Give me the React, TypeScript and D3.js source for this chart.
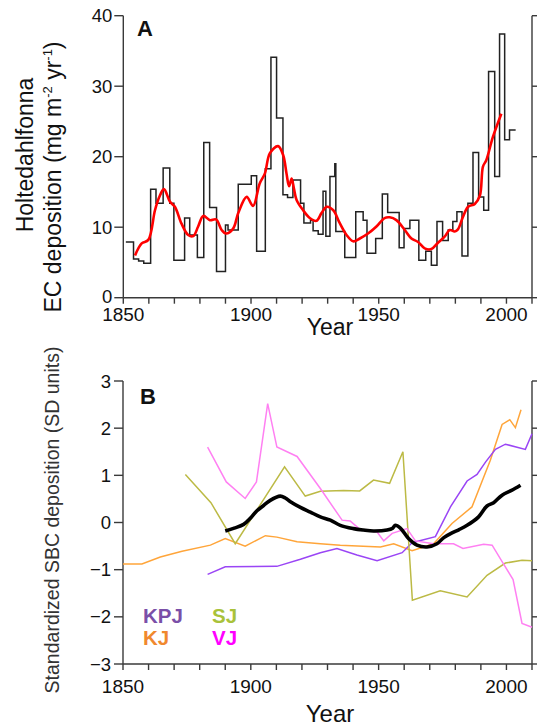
import React from "react";
import * as d3 from "d3";

// ---------- Panel A data ----------
const stepStarts = [1851, 1854, 1856, 1858, 1860.7, 1862.8, 1865.6, 1868.2, 1869.8, 1874, 1876, 1879, 1881.5, 1883.8, 1886.5, 1890, 1891, 1895, 1900.1, 1902.2, 1905.6, 1907.8, 1910, 1912.5, 1914.3, 1916.4, 1919.4, 1920.7, 1923.3, 1924.3, 1926.3, 1928.2, 1929.3, 1930.9, 1932.8, 1933.2, 1936.7, 1941, 1943.9, 1945.4, 1948.8, 1951.4, 1953.5, 1958, 1959.9, 1962.2, 1965.7, 1968.4, 1970.6, 1972.8, 1975, 1977.2, 1979, 1980.6, 1982.6, 1984.9, 1986.9, 1989.1, 1991.1, 1993, 1995.4, 1997.3, 1999.3, 2001.2];
const stepValues = [7.9, 5.5, 5.2, 4.9, 15.4, 13.4, 18.4, 13.4, 5.3, 11.3, 8.9, 5.7, 22.0, 12.8, 3.7, 10.3, 9.6, 16.1, 17.3, 6.6, 18.3, 34.1, 25.5, 14.6, 14.2, 16.7, 13.4, 10.6, 11.0, 9.5, 9.0, 15.1, 8.7, 17.2, 19.0, 9.4, 5.7, 12.2, 11.0, 6.3, 8.4, 14.7, 12.1, 7.1, 9.8, 11.0, 5.3, 6.6, 4.6, 10.8, 8.1, 9.6, 10.8, 12.2, 5.9, 13.4, 20.6, 14.3, 12.4, 32.1, 17.2, 37.4, 22.4, 23.8];
const stepEnd = 2003.6;

const smoothYears = [1854.6, 1857.2, 1859.8, 1862.4, 1864, 1865.9, 1868.3, 1870.2, 1872.8, 1875.4, 1877.4, 1879.3, 1881.3, 1883.9, 1886.3, 1888.5, 1890.2, 1893, 1895, 1898.3, 1900.8, 1903.4, 1905.4, 1907.4, 1910.6, 1912.6, 1913.9, 1914.9, 1915.9, 1916.8, 1917.8, 1920.4, 1923, 1925.6, 1927.6, 1929.6, 1932.2, 1934.7, 1937.4, 1940, 1942.6, 1945.8, 1949.1, 1952.3, 1954.3, 1956.9, 1960.2, 1962.8, 1965.4, 1968, 1970.6, 1973.2, 1975.8, 1977.8, 1979.7, 1981, 1983, 1985, 1987.6, 1989.6, 1990.8, 1992.1, 1994.7, 1998];
const smoothValues = [6.0, 7.7, 8.2, 12.4, 14.2, 15.4, 13.6, 12.9, 10.5, 8.9, 8.75, 10.1, 11.6, 11.0, 11.1, 9.6, 9.1, 9.8, 12.0, 14.3, 13.0, 16.2, 17.6, 20.5, 21.5, 20.2, 17.6, 15.8, 16.9, 15.5, 13.9, 12.4, 11.3, 10.9, 12.0, 12.9, 12.4, 10.6, 8.9, 8.0, 8.4, 9.1, 10.1, 11.3, 11.4, 11.0, 9.6, 8.4, 7.9, 7.0, 6.9, 7.8, 8.65, 9.6, 9.4, 9.7, 11.5, 12.9, 13.3, 14.5, 18.6, 19.5, 22.8, 26.1];

const aYTicks = [0, 10, 20, 30, 40];
const xTickLabels = [1850, 1900, 1950, 2000];

// ---------- Panel B data ----------
const kjYears = [1850, 1857.4, 1864.6, 1873.1, 1884.2, 1890, 1897.8, 1905.7, 1910.2, 1918.1, 1927.2, 1935, 1950.7, 1955.9, 1963.1, 1971.5, 1978.7, 1986.5, 1993.7, 1998.3, 2001.3, 2003.5, 2005.7];
const kjValues = [-0.88, -0.88, -0.73, -0.61, -0.48, -0.34, -0.5, -0.28, -0.31, -0.41, -0.45, -0.48, -0.52, -0.45, -0.6, -0.45, -0.02, 0.33, 1.32, 2.08, 2.18, 2.01, 2.39];

const kpjYears = [1883.1, 1890, 1910.2, 1919.4, 1927.2, 1933.7, 1941.5, 1949.4, 1959.2, 1963.1, 1972.2, 1978.1, 1984.6, 1988.5, 1991.8, 1995.7, 1999.6, 2007.4, 2010];
const kpjValues = [-1.1, -0.94, -0.93, -0.78, -0.64, -0.55, -0.69, -0.81, -0.64, -0.43, -0.3, 0.33, 0.88, 1.02, 1.28, 1.55, 1.66, 1.55, 1.88];

const sjYears = [1874.4, 1884.4, 1893.9, 1913.2, 1921.3, 1927.2, 1936.3, 1942.6, 1948, 1954.3, 1959.5, 1963.2, 1974.1, 1984.6, 1992.4, 1999.6, 2006.1, 2010];
const sjValues = [1.02, 0.42, -0.45, 1.18, 0.56, 0.66, 0.68, 0.67, 0.9, 0.83, 1.5, -1.65, -1.45, -1.58, -1.12, -0.86, -0.8, -0.81];

const vjYears = [1883.1, 1890.4, 1897.8, 1902.2, 1906.6, 1910.2, 1918.1, 1927.2, 1935.7, 1938.9, 1942.8, 1949.4, 1952, 1955.3, 1961.1, 1964.4, 1971.5, 1979.3, 1983, 1991.1, 1994.4, 1998.3, 2002.6, 2006.1, 2010];
const vjValues = [1.6, 0.86, 0.51, 0.86, 2.52, 1.6, 1.4, 0.72, 0.05, 0.03, -0.15, -0.2, -0.39, -0.23, -0.13, -0.39, -0.45, -0.45, -0.55, -0.46, -0.48, -0.83, -1.21, -2.14, -2.22];

const compYears = [1890, 1893.5, 1897.2, 1900, 1902.4, 1905, 1907.6, 1911.5, 1913.5, 1915.5, 1919.4, 1923.3, 1927.2, 1931.1, 1935, 1940.2, 1944, 1948, 1953.3, 1955.5, 1956.5, 1958.5, 1961.7, 1965, 1968.9, 1972.8, 1975.5, 1978.7, 1981.5, 1984.6, 1989.1, 1992.4, 1995, 1998.3, 2002, 2005.5];
const compValues = [-0.18, -0.12, -0.04, 0.1, 0.25, 0.36, 0.47, 0.56, 0.52, 0.44, 0.32, 0.22, 0.12, 0.05, -0.06, -0.13, -0.16, -0.18, -0.16, -0.12, -0.06, -0.12, -0.34, -0.48, -0.52, -0.45, -0.32, -0.22, -0.15, -0.06, 0.12, 0.35, 0.42, 0.58, 0.68, 0.79];

const bYTicks = [-3, -2, -1, 0, 1, 2, 3];

const legendItems = [
  { label: "KPJ", color: "#7a4fa8", col: 0, row: 0 },
  { label: "SJ", color: "#a9c23a", col: 1, row: 0 },
  { label: "KJ", color: "#f0882e", col: 0, row: 1 },
  { label: "VJ", color: "#ff00ff", col: 1, row: 1 },
];

const FONT = "'Liberation Sans', Arial, Helvetica, sans-serif";
const AXIS = "#3a3a3a";

const decadeTicks = d3.range(1850, 2011, 10);

function zip(xs: number[], ys: number[]): [number, number][] {
  return xs.map((x, i) => [x, ys[i]]);
}

export default function App() {
  const xA = d3.scaleLinear().domain([1850, 2010]).range([123.3, 532]);
  const yA = d3.scaleLinear().domain([0, 40]).range([297.7, 15.7]);
  const xB = d3.scaleLinear().domain([1850, 2010]).range([123, 532]);
  const yB = d3.scaleLinear().domain([-3, 3]).range([664, 381]);

  const stepData: [number, number][] = [...zip(stepStarts, stepValues), [stepEnd, stepValues[stepValues.length - 1]]];
  const stepLine = d3.line<[number, number]>().x(d => xA(d[0])).y(d => yA(d[1])).curve(d3.curveStepAfter);
  const smoothLine = d3.line<[number, number]>().x(d => xA(d[0])).y(d => yA(d[1])).curve(d3.curveCatmullRom.alpha(0.5));

  const lineB = d3.line<[number, number]>().x(d => xB(d[0])).y(d => yB(d[1]));
  const compLine = d3.line<[number, number]>().x(d => xB(d[0])).y(d => yB(d[1])).curve(d3.curveCatmullRom.alpha(0.5));

  const [aL, aR] = xA.range();
  const [aB, aT] = yA.range();
  const [bL, bR] = xB.range();
  const [bB, bT] = yB.range();

  return (
    <svg width={537} height={728} style={{ position: "absolute", left: 0, top: 0, background: "#fff" }} fontFamily={FONT}>
      {/* ================= Panel A ================= */}
      <g>
        <line x1={aL} x2={aL} y1={aT} y2={aB} stroke={AXIS} strokeWidth={1.4} />
        <line x1={aR} x2={aR} y1={aT} y2={aB} stroke={AXIS} strokeWidth={1.4} />
        <line x1={aL} x2={aR} y1={aB} y2={aB} stroke={AXIS} strokeWidth={1.4} />
        {aYTicks.map(t => (
          <g key={"ay" + t}>
            <line x1={aL - 9} x2={aL} y1={yA(t)} y2={yA(t)} stroke={AXIS} strokeWidth={1.4} />
            <line x1={aR} x2={aR + 5} y1={yA(t)} y2={yA(t)} stroke={AXIS} strokeWidth={1.4} />
            <text x={aL - 11} y={yA(t) - (t === 0 ? 1.5 : 0)} dy="0.36em" textAnchor="end" fontSize={18.5} fill="#111">{t}</text>
          </g>
        ))}
        {decadeTicks.map(t => (
          <line key={"ax" + t} x1={xA(t)} x2={xA(t)} y1={aB} y2={aB + 6} stroke={AXIS} strokeWidth={1.4} />
        ))}
        {xTickLabels.map(t => (
          <text key={"axl" + t} x={xA(t)} y={321} textAnchor="middle" fontSize={19} fill="#111">{t}</text>
        ))}
        <text x={330} y={335} textAnchor="middle" fontSize={23} fill="#111">Year</text>
        <text transform="translate(32.5,155) rotate(-90)" textAnchor="middle" fontSize={23} fill="#111">Holtedahlfonna</text>
        <text transform="translate(60.5,177) rotate(-90)" textAnchor="middle" fontSize={23} fill="#111">
          EC deposition (mg m<tspan dy="-9" fontSize={13}>-2</tspan><tspan dy="9"> yr</tspan><tspan dy="-9" fontSize={13}>-1</tspan><tspan dy="9">)</tspan>
        </text>
        <text x={137} y={36} fontSize={22} fontWeight="bold" fill="#111">A</text>
        <path d={stepLine(stepData) || ""} fill="none" stroke="#222" strokeWidth={1.5} />
        <path d={smoothLine(zip(smoothYears, smoothValues)) || ""} fill="none" stroke="#ff0000" strokeWidth={2.6} />
      </g>

      {/* ================= Panel B ================= */}
      <g>
        <line x1={bL} x2={bL} y1={bT} y2={bB} stroke={AXIS} strokeWidth={1.4} />
        <line x1={bR} x2={bR} y1={bT} y2={bB} stroke={AXIS} strokeWidth={1.4} />
        <line x1={bL} x2={bR} y1={bB} y2={bB} stroke={AXIS} strokeWidth={1.4} />
        {bYTicks.map(t => (
          <g key={"by" + t}>
            <line x1={bL - 9} x2={bL} y1={yB(t)} y2={yB(t)} stroke={AXIS} strokeWidth={1.4} />
            <line x1={bR} x2={bR + 5} y1={yB(t)} y2={yB(t)} stroke={AXIS} strokeWidth={1.4} />
            <text x={bL - 12} y={yB(t)} dy="0.36em" textAnchor="end" fontSize={18.5} fill="#111">{t < 0 ? "\u2212" + Math.abs(t) : t}</text>
          </g>
        ))}
        {decadeTicks.map(t => (
          <line key={"bx" + t} x1={xB(t)} x2={xB(t)} y1={bB} y2={bB + 6} stroke={AXIS} strokeWidth={1.4} />
        ))}
        {xTickLabels.map(t => (
          <text key={"bxl" + t} x={xB(t)} y={693} textAnchor="middle" fontSize={19} fill="#111">{t}</text>
        ))}
        <text x={330} y={722} textAnchor="middle" fontSize={24} fill="#111">Year</text>
        <text transform="translate(59,520) rotate(-90)" textAnchor="middle" fontSize={19.5} fill="#333">Standardized SBC deposition (SD units)</text>
        <text x={140} y={404} fontSize={22} fontWeight="bold" fill="#111">B</text>

        <path d={lineB(zip(kjYears, kjValues)) || ""} fill="none" stroke="#ffa53a" strokeWidth={1.5} />
        <path d={lineB(zip(kpjYears, kpjValues)) || ""} fill="none" stroke="#9a45f5" strokeWidth={1.5} />
        <path d={lineB(zip(sjYears, sjValues)) || ""} fill="none" stroke="#bcba45" strokeWidth={1.5} />
        <path d={lineB(zip(vjYears, vjValues)) || ""} fill="none" stroke="#ff80f2" strokeWidth={1.5} />
        <path d={compLine(zip(compYears, compValues)) || ""} fill="none" stroke="#000" strokeWidth={3.6} />

        {legendItems.map(it => (
          <text key={it.label} x={143 + it.col * 69} y={623 + it.row * 21.5} fontSize={20.5} fontWeight="bold" fill={it.color}>{it.label}</text>
        ))}
      </g>
    </svg>
  );
}
